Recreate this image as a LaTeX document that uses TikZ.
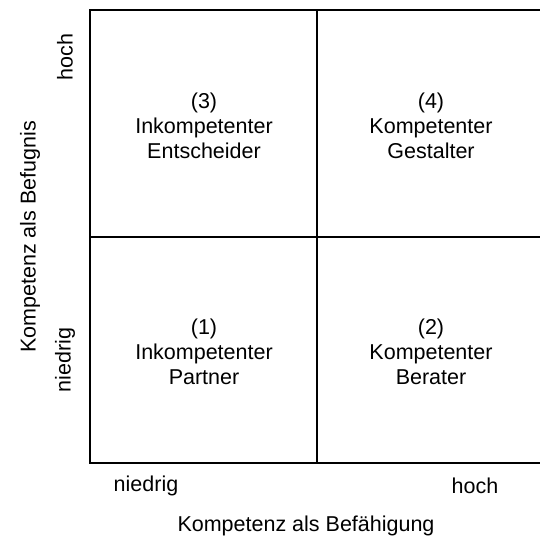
\documentclass[tikz,border=0pt]{standalone}
\usepackage{fontspec}
\setmainfont{Liberation Sans}
\usepackage{tikz}

\begin{document}
\begin{tikzpicture}[x=1pt, y=-1pt,
        txt/.style={font=\fontsize{21.5}{25}\selectfont, inner sep=0pt, align=center}]
        \useasboundingbox (0,0) rectangle (540,539);

        % grid
        \draw[line width = 1.3pt] (540,10) -- (90,10) -- (90,463) -- (540,463);
        \draw[line width = 1.3pt] (317,10) -- (317,463);
        \draw[line width = 1.3pt] (90,237) -- (540,237);

        % quadrants
        \node[txt] (q3) at (204,126) {(3)\\Inkompetenter\\Entscheider};
        \node[txt] (q4) at (431,126) {(4)\\Kompetenter\\Gestalter};
        \node[txt] (q1) at (204,352) {(1)\\Inkompetenter\\Partner};
        \node[txt] (q2) at (431,352) {(2)\\Kompetenter\\Berater};

        % x axis
        \node[txt] (xlow) at (146,486) {niedrig};
        \node[txt] (xhigh) at (475,486) {hoch};
        \node[txt] (xlabel) at (306,526) {Kompetenz als Befähigung};

        % y axis
        \node[txt, rotate=90] (ylow) at (65,360) {niedrig};
        \node[txt, rotate=90] (yhigh) at (65,57) {hoch};
        \node[txt, rotate=90] (ylabel) at (30,237) {Kompetenz als Befugnis};

    \end{tikzpicture}
\end{document}
